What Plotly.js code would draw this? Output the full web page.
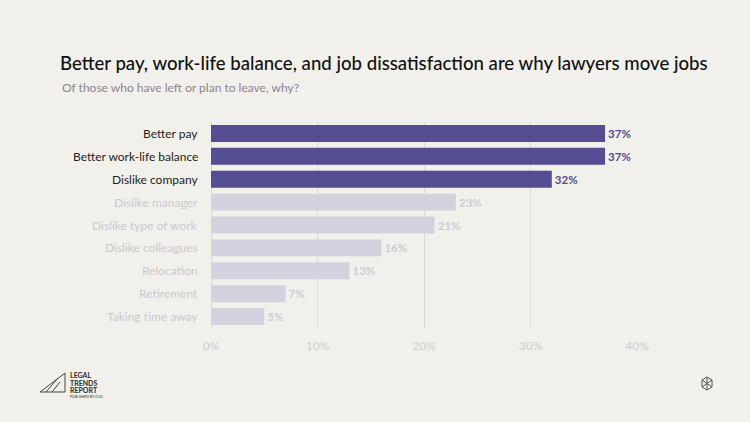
<!DOCTYPE html>
<html><head><meta charset="utf-8">
<script src="https://cdn.plot.ly/plotly-3.0.1.min.js"></script>
<style>html,body{margin:0;padding:0;background:#f2f0eb;}</style>
</head><body>
<div id="chart" style="width:750px;height:422px;"></div>
<script>
var categories = ["Better pay","Better work-life balance","Dislike company","Dislike manager","Dislike type of work","Dislike colleagues","Relocation","Retirement","Taking time away"];
var values = [37,37,32,23,21,16,13,7,5];
var highlighted = [true,true,true,false,false,false,false,false,false];
var tickVals = [0,10,20,30,40];
var tickText = ["0%","10%","20%","30%","40%"];

var DARK = "#544d91", LIGHT = "#d5d2df";
var FONT = "Lato, 'Noto Sans', sans-serif";

var trace = {
  type: "bar", orientation: "h",
  y: categories, x: values,
  marker: {color: highlighted.map(function(h){return h?DARK:LIGHT;})},
  width: 0.74,
  text: values.map(function(v){return v+"%";}),
  textposition: "outside",
  cliponaxis: false,
  textfont: {family: FONT, size: 11.5, color: highlighted.map(function(h){return h?DARK:"#cfcbd6";}), weight: 700},
  hoverinfo: "none"
};

function px(x){return (x-211)/426;}
function py(y){return (328-y)/206;}

var anns = [];
categories.forEach(function(c,i){
  anns.push({xref:"paper", yref:"y", x:0, y:c, xanchor:"right", xshift:-11, text:c, showarrow:false,
    font:{family:FONT, size:12, color: highlighted[i]?"#1f1d22":"#cbc8cf"}});
});
anns.push({xref:"paper", yref:"paper", x:px(60), y:py(87), xanchor:"left", yanchor:"middle", showarrow:false,
  text:"Of those who have left or plan to leave, why?", font:{family:FONT, size:12, color:"#8d8290"}});
var logoLines = ["LEGAL","TRENDS","REPORT"];
var logoY = [375, 382.5, 390];
logoLines.forEach(function(t,i){
  anns.push({xref:"paper", yref:"paper", x:px(68), y:py(logoY[i]), xanchor:"left", yanchor:"middle", showarrow:false,
    text:"<b>"+t+"</b>", font:{family:FONT, size:7, color:"#2a2a2a"}});
});
anns.push({xref:"paper", yref:"paper", x:px(68), y:py(397), xanchor:"left", yanchor:"middle", showarrow:false,
  text:"PUBLISHED BY CLIO", font:{family:FONT, size:3.5, color:"#2a2a2a"}});

var shapes = [
  {type:"line", xref:"paper", yref:"paper", x0:px(40), y0:py(392), x1:px(65), y1:py(392), line:{color:"#444", width:1}},
  {type:"line", xref:"paper", yref:"paper", x0:px(40), y0:py(392), x1:px(65), y1:py(373), line:{color:"#444", width:1}},
  {type:"line", xref:"paper", yref:"paper", x0:px(65), y0:py(392), x1:px(65), y1:py(373), line:{color:"#444", width:1}},
  {type:"line", xref:"paper", yref:"paper", x0:px(46), y0:py(392), x1:px(58), y1:py(378), line:{color:"#444", width:1}},
  {type:"line", xref:"paper", yref:"paper", x0:px(52), y0:py(392), x1:px(60), y1:py(382), line:{color:"#444", width:1}},
  {type:"path", xref:"paper", yref:"paper",
   path:"M "+px(707)+","+py(377)+" L "+px(712)+","+py(380)+" L "+px(712)+","+py(387)+" L "+px(707)+","+py(390)+" L "+px(702)+","+py(387)+" L "+px(702)+","+py(380)+" Z M "+px(707)+","+py(377)+" L "+px(707)+","+py(390)+" M "+px(702)+","+py(380)+" L "+px(712)+","+py(387)+" M "+px(712)+","+py(380)+" L "+px(702)+","+py(387),
   line:{color:"#555", width:1}}
];

var layout = {
  width: 750, height: 422,
  paper_bgcolor: "#f2f0eb", plot_bgcolor: "#f2f0eb",
  margin: {l:211, r:113, t:122, b:94},
  title: {text:"Better pay, work-life balance, and job dissatisfaction are why lawyers move jobs",
    x: 60/750, xanchor:"left", y: 1-63/422, yanchor:"middle",
    font:{family:FONT, size:18.6, color:"#111111", weight:500}},
  xaxis: {range:[0,40], tickvals:tickVals, ticktext:tickText, showgrid:true, gridcolor:"#dddad6", gridwidth:1,
    zeroline:true, zerolinecolor:"#dddad6", showline:false, ticks:"", ticklabelstandoff:9,
    tickfont:{family:FONT, size:12, color:"#cfccd3"}, fixedrange:true},
  yaxis: {autorange:"reversed", showticklabels:false, showgrid:false, zeroline:false, ticks:"", fixedrange:true},
  showlegend: false,
  annotations: anns,
  shapes: shapes
};

Plotly.newPlot("chart", [trace], layout, {displayModeBar:false, staticPlot:true});
</script>
</body></html>
